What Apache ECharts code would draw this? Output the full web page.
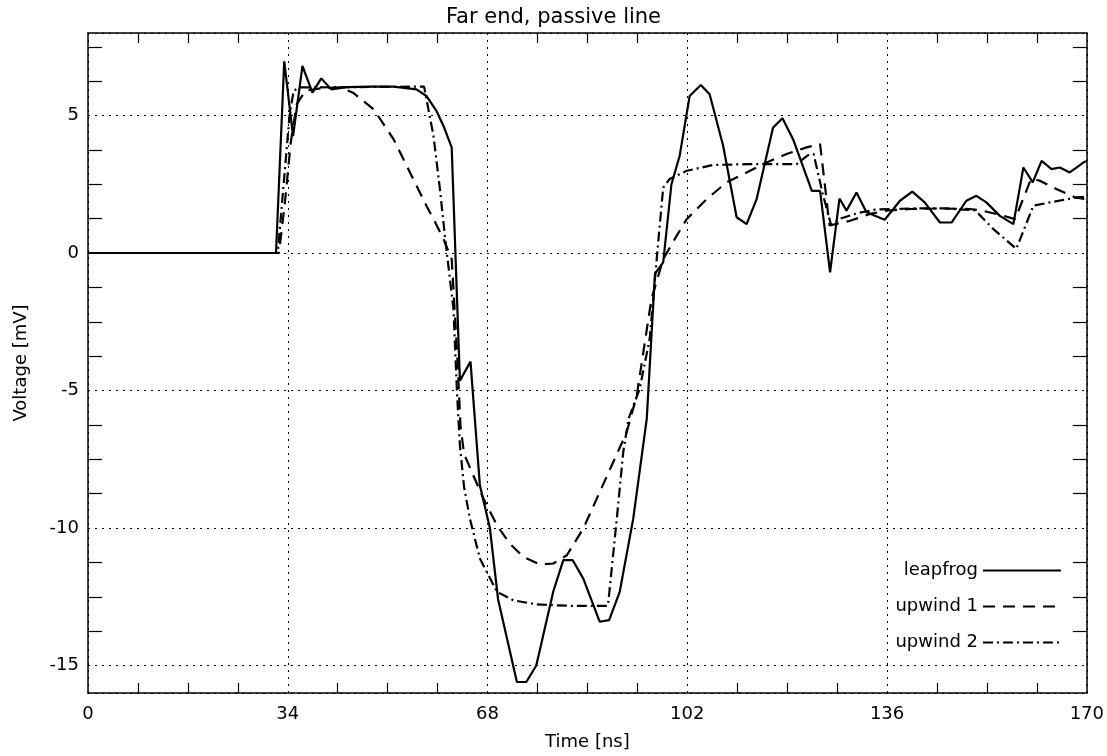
<!DOCTYPE html>
<html><head><meta charset="utf-8">
<script src="https://cdn.jsdelivr.net/npm/echarts@6/dist/echarts.min.js"></script>
<style>html,body{margin:0;padding:0;background:#fff}#c{width:1107px;height:756px}</style>
</head><body><div id="c"></div>
<script>
const titleText = 'Far end, passive line';
const xName = 'Time [ns]';
const yName = 'Voltage [mV]';
const seriesNames = ['leapfrog', 'upwind 1', 'upwind 2'];
const xTickLabels = [0, 34, 68, 102, 136, 170];
const yTickLabels = [-15, -10, -5, 0, 5];

const leapfrogT = [0, 32, 33.4, 34.9, 36.5, 38.2, 39.7, 41.4, 44, 48, 52, 55.9, 57.6, 59.3, 60.5, 61.9, 63.3, 65.1, 66.7, 68.4, 69.8, 73.0, 74.6, 76.3, 79.2, 80.9, 82.5, 84.3, 87.1, 88.7, 90.5, 92.8, 95.1, 96.5, 97.9, 99.3, 100.7, 102.4, 104.3, 105.8, 108.1, 110.4, 112.1, 113.8, 116.6, 118.2, 120.0, 123.2, 124.6, 126.3, 127.9, 129.1, 130.8, 132.5, 135.6, 138.2, 140.3, 142.4, 145.0, 147.0, 149.5, 151.2, 152.9, 155.2, 157.5, 159.2, 160.8, 162.3, 164.0, 165.4, 167.1, 169.4, 170];
const leapfrogV = [0, 0, 6.97, 4.25, 6.8, 5.83, 6.35, 5.95, 6.03, 6.05, 6.05, 5.95, 5.71, 5.17, 4.62, 3.84, -4.64, -3.95, -8.45, -10.0, -12.6, -15.6, -15.6, -15.0, -12.3, -11.17, -11.17, -11.84, -13.41, -13.35, -12.32, -9.66, -6.03, -0.75, -0.34, 2.5, 3.53, 5.71, 6.11, 5.77, 3.9, 1.3, 1.05, 1.96, 4.56, 4.9, 4.14, 2.26, 2.26, -0.7, 1.98, 1.54, 2.2, 1.48, 1.21, 1.9, 2.23, 1.84, 1.11, 1.11, 1.9, 2.08, 1.84, 1.35, 1.05, 3.11, 2.57, 3.35, 3.05, 3.11, 2.93, 3.29, 3.35];

const upwind1T = [0, 32.5, 33.5, 34.5, 35.5, 37, 40, 43, 45.1, 48.6, 52.0, 54.8, 57.6, 59.1, 60.5, 61.9, 62.8, 63.4, 64.0, 65.4, 67.3, 69.6, 71.8, 74.1, 76.9, 79.2, 81.5, 84.3, 87.1, 89.4, 91.7, 93.4, 95.9, 97.9, 100.2, 101.9, 105.3, 108.7, 112.1, 115.5, 118.9, 122.3, 124.6, 125.4, 126.2, 129.7, 133.1, 135.9, 140, 145, 150, 152, 155, 157.8, 160.5, 162, 164.9, 168, 170];
const upwind1V = [0, 0, 1.8, 4.0, 5.4, 5.9, 6.0, 6.02, 5.83, 5.23, 4.14, 2.93, 1.72, 1.11, 0.51, -0.22, -3.5, -6.3, -7.3, -8.0, -8.93, -9.9, -10.57, -11.05, -11.33, -11.29, -10.99, -10.02, -8.69, -7.6, -6.51, -5.18, -1.67, -0.22, 0.63, 1.23, 1.96, 2.57, 2.93, 3.29, 3.6, 3.84, 3.96, 2.5, 1.0, 1.17, 1.42, 1.54, 1.6, 1.62, 1.6, 1.55, 1.4, 1.23, 2.69, 2.63, 2.32, 2.02, 1.95];

const upwind2T = [0, 32.3, 33.3, 34.3, 35.0, 36, 57.2, 58.8, 59.9, 60.8, 61.6, 62.2, 62.8, 63.3, 64.0, 65.0, 66.7, 69.6, 72.4, 76.4, 82.0, 88.5, 90.0, 91.1, 92.0, 93.9, 95.6, 97.1, 97.9, 99.0, 101.9, 106.4, 112.1, 120.6, 122.5, 123.5, 125.0, 126.5, 128, 131, 134, 140, 146, 151, 154.1, 158.0, 160.9, 163.7, 168.3, 170];
const upwind2V = [0, 0, 2.5, 5.0, 5.9, 6.02, 6.05, 4.26, 2.32, 0.51, -0.94, -2.03, -5.06, -7.0, -8.5, -9.66, -11.11, -12.32, -12.63, -12.78, -12.83, -12.83, -9.66, -7.24, -6.03, -4.94, -3.12, 0.51, 2.38, 2.69, 2.99, 3.2, 3.23, 3.23, 3.55, 3.6, 2.2, 1.0, 1.25, 1.45, 1.58, 1.62, 1.62, 1.55, 0.87, 0.15, 1.72, 1.84, 2.02, 2.05];

const FONT = 'DejaVu Sans';
const pairs = (t, v) => t.map((x, i) => [x, v[i]]);

const xStep = (xTickLabels[1] - xTickLabels[0]);
const yStep = (yTickLabels[1] - yTickLabels[0]);
const xMin = xTickLabels[0], xMax = xTickLabels[xTickLabels.length - 1];
const yMin = -16, yMax = 8;
const xMinor = [];
for (let k = 0; xMin + k * xStep / 4 <= xMax + 1e-9; k++) {
  const v = xMin + k * xStep / 4;
  if (k % 4 !== 0) xMinor.push(+v.toFixed(4));
}
const yMinor = [];
for (let k = -20; k <= 20; k++) {
  const v = yTickLabels[0] + k * yStep / 4;
  if (v > yMin && v < yMax && ((k % 4) + 4) % 4 !== 0) yMinor.push(+v.toFixed(4));
}

const lineAxis = { show: true, onZero: false, lineStyle: { color: '#000', width: 1.5 } };
const noLine = { show: false, onZero: false };
const dotted = { show: true, lineStyle: { color: '#000', width: 1, type: [2, 5] } };
const labelStyle = { color: '#000', fontFamily: FONT, fontSize: 18 };
const tickStyle = { color: '#000', width: 1.2 };

const chart = echarts.init(document.getElementById('c'));
chart.setOption({
  animation: false,
  backgroundColor: '#fff',
  title: { text: titleText, left: 'center', top: 2,
    textStyle: { fontFamily: FONT, fontWeight: 'normal', fontSize: 21, color: '#000' } },
  grid: { left: 88, right: 20, top: 33, bottom: 62, containLabel: false },
  legend: {
    data: seriesNames, orient: 'vertical', align: 'right', right: 40, top: 555,
    itemWidth: 78, itemHeight: 14, itemGap: 15,
    itemStyle: { opacity: 0 },
    textStyle: { fontFamily: FONT, fontSize: 18, color: '#000', lineHeight: 21 }
  },
  xAxis: [
    { type: 'value', min: xMin, max: xMax, interval: xStep, position: 'bottom',
      name: xName, nameLocation: 'middle', nameGap: 40,
      nameTextStyle: labelStyle,
      axisLine: lineAxis, axisTick: { show: false },
      axisLabel: Object.assign({ margin: 12 }, labelStyle),
      splitLine: dotted },
    { type: 'value', min: xMin, max: xMax, position: 'bottom',
      axisLine: noLine, axisLabel: { show: false }, splitLine: { show: false },
      axisTick: { show: true, inside: true, length: 10, lineStyle: tickStyle, customValues: xMinor } },
    { type: 'value', min: xMin, max: xMax, position: 'top',
      axisLine: lineAxis, axisLabel: { show: false }, splitLine: { show: false },
      axisTick: { show: true, inside: true, length: 10, lineStyle: tickStyle, customValues: xMinor } }
  ],
  yAxis: [
    { type: 'value', min: yMin, max: yMax, splitNumber: 5, position: 'left',
      name: yName, nameLocation: 'middle', nameGap: 58, nameRotate: 90,
      nameTextStyle: labelStyle,
      axisLine: lineAxis, axisTick: { show: false },
      axisLabel: Object.assign({ margin: 9, customValues: yTickLabels }, labelStyle),
      splitLine: dotted },
    { type: 'value', min: yMin, max: yMax, position: 'left',
      axisLine: noLine, axisLabel: { show: false }, splitLine: { show: false },
      axisTick: { show: true, inside: true, length: 14, lineStyle: tickStyle, customValues: yMinor } },
    { type: 'value', min: yMin, max: yMax, position: 'right',
      axisLine: lineAxis, axisLabel: { show: false }, splitLine: { show: false },
      axisTick: { show: true, inside: true, length: 14, lineStyle: tickStyle, customValues: yMinor } }
  ],
  series: [
    { name: seriesNames[0], type: 'line', data: pairs(leapfrogT, leapfrogV), showSymbol: false, symbol: 'none',
      lineStyle: { color: '#000', width: 2.2, type: 'solid' }, itemStyle: { color: '#000' } },
    { name: seriesNames[1], type: 'line', data: pairs(upwind1T, upwind1V), showSymbol: false, symbol: 'none',
      lineStyle: { color: '#000', width: 2.2, type: [12, 8] }, itemStyle: { color: '#000' } },
    { name: seriesNames[2], type: 'line', data: pairs(upwind2T, upwind2V), showSymbol: false, symbol: 'none',
      lineStyle: { color: '#000', width: 2.2, type: [10, 4, 2, 4] }, itemStyle: { color: '#000' } }
  ]
});
</script></body></html>
